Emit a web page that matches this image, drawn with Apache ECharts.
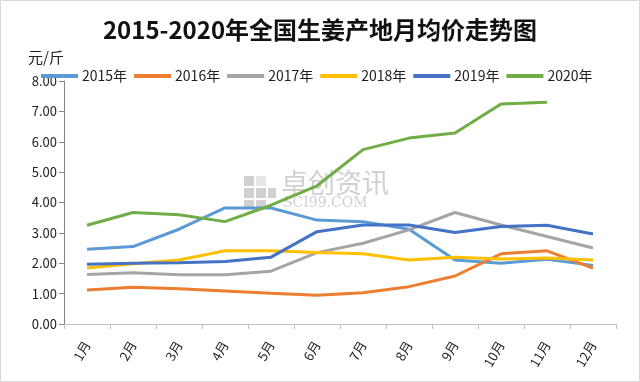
<!DOCTYPE html>
<html><head><meta charset="utf-8">
<script src="https://cdn.jsdelivr.net/npm/echarts@6/dist/echarts.min.js"></script>
<style>html,body{margin:0;padding:0;background:#fff}#c{width:640px;height:382px}</style>
</head><body><div id="c"></div>
<script>
const categories = ['1月','2月','3月','4月','5月','6月','7月','8月','9月','10月','11月','12月'];
const y2015 = [2.46,2.55,3.12,3.82,3.82,3.42,3.37,3.12,2.11,2.00,2.13,1.93];
const y2016 = [1.12,1.21,1.16,1.09,1.01,0.95,1.03,1.23,1.58,2.31,2.41,1.84];
const y2017 = [1.63,1.69,1.62,1.62,1.74,2.35,2.66,3.10,3.67,3.26,2.88,2.50];
const y2018 = [1.84,1.98,2.11,2.41,2.41,2.35,2.31,2.11,2.20,2.14,2.17,2.11];
const y2019 = [1.97,2.00,2.02,2.06,2.20,3.04,3.26,3.26,3.01,3.21,3.25,2.96];
const y2020 = [3.25,3.67,3.60,3.37,3.91,4.55,5.74,6.12,6.29,7.24,7.30,null];
const seriesNames = ['2015年','2016年','2017年','2018年','2019年','2020年'];
const colors = ['#5B9BD5','#ED7D31','#A5A5A5','#FFC000','#4472C4','#70AD47'];
const yTicks = [0,1,2,3,4,5,6,7,8];

const chart = echarts.init(document.getElementById('c'));
const allData = [y2015,y2016,y2017,y2018,y2019,y2020];
const wm = 'rgba(150,150,150,0.45)';
chart.setOption({
  backgroundColor:'#fff',
  animation:false,
  color: colors,
  title:{text:'2015-2020年全国生姜产地月均价走势图',left:'center',top:13,
    textStyle:{fontFamily:'Noto Sans CJK SC',fontWeight:'bold',fontSize:24,color:'#111'}},
  legend:{data:seriesNames,top:64,left:36,itemWidth:37,itemHeight:4,itemGap:7,
    icon:'rect',
    textStyle:{fontFamily:'Noto Sans CJK SC',fontSize:14,color:'#222',padding:[0,0,0,-1]}},
  grid:{left:64,right:24,top:81,bottom:58},
  xAxis:{type:'category',data:categories,boundaryGap:true,
    axisLine:{lineStyle:{color:'#BFBFBF'}},
    axisTick:{show:true,lineStyle:{color:'#BFBFBF'}},
    axisLabel:{rotate:60,color:'#222',fontFamily:'Noto Sans CJK SC',fontSize:13,margin:18}},
  yAxis:{type:'value',min:yTicks[0],max:yTicks[yTicks.length-1],interval:1,
    name:'元/斤',nameLocation:'end',nameGap:12,
    nameTextStyle:{fontFamily:'Noto Sans CJK SC',fontSize:15,color:'#222',align:'right',padding:[0,0,4,0]},
    axisLine:{show:true,lineStyle:{color:'#868686'}},
    axisTick:{show:true,length:5,lineStyle:{color:'#868686'}},
    splitLine:{show:false},
    axisLabel:{formatter:v=>v.toFixed(2),color:'#222',fontFamily:'Noto Sans CJK SC',fontSize:13,margin:7}},
  graphic:[
    {type:'rect',shape:{x:0.5,y:0.5,width:639,height:381},style:{fill:'none',stroke:'#D9D9D9',lineWidth:1}},
    {type:'rect',z:0,shape:{x:244,y:176,width:10,height:10},style:{fill:wm}},
    {type:'rect',z:0,shape:{x:256,y:176,width:10,height:10},style:{fill:'rgba(150,150,150,0.25)'}},
    {type:'rect',z:0,shape:{x:244,y:188,width:10,height:10},style:{fill:wm}},
    {type:'rect',z:0,shape:{x:256,y:188,width:10,height:10},style:{fill:wm}},
    {type:'rect',z:0,shape:{x:268,y:188,width:8,height:10},style:{fill:wm}},
    {type:'rect',z:0,shape:{x:244,y:200,width:10,height:8},style:{fill:wm}},
    {type:'rect',z:0,shape:{x:256,y:200,width:10,height:8},style:{fill:wm}},
    {type:'text',left:281,top:169,z:0,style:{text:'卓创资讯',fontSize:27,fontFamily:'Noto Sans CJK SC',fill:wm}},
    {type:'text',left:283,top:196,z:0,style:{text:'SCI99.COM',fontSize:14,fontFamily:'DejaVu Serif',fill:wm}}
  ],
  series: allData.map((d,i)=>({name:seriesNames[i],type:'line',data:d,showSymbol:false,symbol:'none',
    lineStyle:{width:3,color:colors[i]},itemStyle:{color:colors[i]}}))
});
</script></body></html>
